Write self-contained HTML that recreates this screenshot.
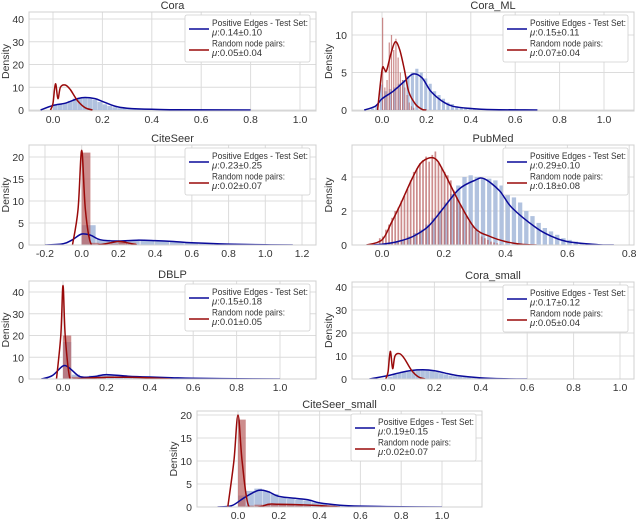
<!DOCTYPE html>
<html><head><meta charset="utf-8"><style>
body{margin:0;background:#fff;}
svg{display:block;font-family:"Liberation Sans",sans-serif;}
</style></head><body>
<svg id="c" width="640" height="522" viewBox="0 0 640 522"></svg>
<script>
// ---- data (density values) ----
const coraPosX=[-0.05,0,0.05,0.1,0.13,0.17,0.2,0.25,0.3,0.4,0.5,0.8];
const coraPosY=[0,2,3,5,5.5,5,3.8,1.7,0.8,0.3,0.1,0];
const coraRandX=[-0.01,0,0.01,0.02,0.03,0.05,0.07,0.1,0.13,0.16];
const coraRandY=[0,3,11.5,5,10,11,9,4,1,0];
const coraPosHist=[2,2.5,3,4,5,5.5,5.5,5,4.5,3.5,2.5,1.8,1.2,0.8,0.6,0.4,0.3,0.3,0.2,0.2,0.1,0.1];
const coraRandHist=[];

const coraMLPosX=[-0.08,-0.03,0,0.05,0.1,0.14,0.18,0.22,0.27,0.32,0.4,0.5,0.7];
const coraMLPosY=[0,0.5,1.5,2.5,3.8,4.8,4.3,2.5,1.2,0.5,0.2,0.05,0];
const coraMLRandX=[-0.02,0,0.01,0.02,0.04,0.06,0.08,0.1,0.12,0.15,0.18,0.2];
const coraMLRandY=[0,5.3,5.5,5.2,7.5,9.1,8,5.5,2.5,0.8,0.1,0];
const coraMLPosHist=[0.2,0.5,3.4,2.5,2.8,3,3.5,4,4.5,5,5.5,5,4.2,3.5,2.5,2,1.5,1,0.8,0.5,0.4,0.3,0.3,0.2,0.2,0.1];
const coraMLRandHist=[12.3,3,4,9,10,8,9.5,7,5,4,3,2,1,0.5,0.3];

const citePosX=[-0.2,-0.1,-0.05,0,0.05,0.1,0.2,0.3,0.4,0.5,0.6,0.8,1.0,1.15];
const citePosY=[0,0.3,1.2,2.5,2.2,1.2,0.9,1.1,1,0.8,0.5,0.2,0.05,0];
const citeRandX=[-0.05,-0.02,0,0.02,0.05,0.1,0.2,0.25,0.3];
const citeRandY=[0,8,21.5,8,0.3,0.1,0.8,0.5,0];
const citePosHist=[4.5,1.2,1,1.1,1,0.9,0.7,0.5,0.3,0.2,0.15,0.1,0.05,0.05];
const citeRandHist=[21,0.5,0.3,0.3,0.6,0.5];

const pubPosX=[-0.05,0,0.05,0.1,0.15,0.2,0.25,0.3,0.33,0.38,0.42,0.5,0.55,0.6,0.7,0.75];
const pubPosY=[0,0.05,0.2,0.5,1.1,2.2,3.3,3.8,3.9,3.2,2.2,1,0.5,0.2,0.02,0];
const pubRandX=[-0.05,0,0.03,0.06,0.1,0.13,0.17,0.2,0.25,0.3,0.35,0.4,0.45,0.5];
const pubRandY=[0,0.3,1.3,2.4,4,4.9,5.1,4.3,2.5,1,0.5,0.2,0.05,0];
const pubPosHist=[0.05,0.1,0.2,0.3,0.5,0.7,0.9,1.2,1.6,2,2.5,3,3.5,4,4.1,4,3.9,3.9,3.8,3.5,3.1,2.8,2.5,2,1.7,1.3,1,0.8,0.6,0.4,0.3,0.2,0.1,0.1,0.05];
const pubRandHist=[0.4,0.5,0.9,1.2,1.6,2,2.2,2.6,2.9,3.3,3.8,4.3,4.5,4.8,5,5.2,4.9,5.3,5.5,4.9,4.6,4.3,4.1,3.8,3.2,2.8,2.4,2.1,1.7,1.4,1.1,0.9,0.7,0.5,0.4,0.3,0.2,0.15,0.1,0.05];

const dblpPosX=[-0.1,-0.05,0,0.03,0.07,0.1,0.15,0.2,0.3,0.4,0.5,0.6,0.8,1.0];
const dblpPosY=[0,1.5,6,5,1.5,0.8,1.2,2,1.3,0.9,0.6,0.3,0.1,0];
const dblpRandX=[-0.03,-0.01,0,0.01,0.03,0.05,0.1,0.2,0.3,0.4,0.5];
const dblpRandY=[0,20,43,20,1,0,0.3,0.8,0.8,0.5,0];
const dblpPosHist=[17,2,1,1.5,2,2,1.5,1.2,1,0.8,0.6,0.5,0.4,0.3,0.2,0.1];
const dblpRandHist=[20,1,0.5,0.5,0.5];

const csmPosX=[-0.08,0,0.05,0.1,0.15,0.2,0.25,0.3,0.4,0.5,0.6];
const csmPosY=[0,1.5,2.7,3.7,4,3.6,2.5,1.5,0.5,0.1,0];
const csmRandX=[-0.01,0,0.01,0.02,0.03,0.05,0.07,0.1,0.13,0.16];
const csmRandY=[0,3,12,4.5,10,11,9,4,1,0];
const csmPosHist=[1,2,2.5,3,3.5,4,4,4,3.8,3.5,3,2.5,2,1.5,1.2,1,0.8,0.6,0.4,0.3];
const csmRandHist=[];

const cssPosX=[-0.1,-0.03,0.03,0.1,0.15,0.2,0.3,0.35,0.4,0.5,0.6,0.8,1.0];
const cssPosY=[0,0.3,2,3.6,3.3,2.3,1.8,1.5,0.9,0.4,0.2,0.05,0];
const cssRandX=[-0.05,-0.02,0,0.02,0.05,0.1,0.15,0.2,0.3,0.4,0.5];
const cssRandY=[0,10,20,10,0.5,0,0.6,0.6,0.5,0.3,0];
const cssPosHist=[2.5,3.5,4,3.5,2.8,2,1.8,1.6,1.4,1,0.7,0.4,0.3,0.2,0.1];
const cssRandHist=[19,0.3,0.5,0.5,0.5,0.5,0.4,0.3,0.2];

const xTicksStd=[0,0.2,0.4,0.6,0.8,1.0];
const xTicksCite=[-0.2,0,0.2,0.4,0.6,0.8,1.0,1.2];
const xTicksPub=[0,0.2,0.4,0.6,0.8];
const yTicks40=[0,10,20,30,40];
const yTicks20=[0,5,10,15,20];
const yTicksML=[0,5,10];
const yTicksPub=[0,2,4];
const legendPos=["0.14±0.10","0.15±0.11","0.23±0.25","0.29±0.10","0.15±0.18","0.17±0.12","0.19±0.15"];
const legendRand=["0.05±0.04","0.07±0.04","0.02±0.07","0.18±0.08","0.01±0.05","0.05±0.04","0.02±0.07"];

// ---- layout (pixels) ----
const panels=[
 {name:"Cora",key:"cora",L:29,R:316,T:12,B:111,x0:53,xs:247,y0:110,ys:2.275,xt:xTicksStd,yt:yTicks40,px:coraPosX,py:coraPosY,rx:coraRandX,ry:coraRandY,ph:coraPosHist,phS:0,phW:0.02,rh:coraRandHist,rhS:0,rhW:0.01},
 {name:"Cora_ML",key:"cora-ml",L:352,R:634,T:12,B:111,x0:382,xs:222,y0:110,ys:7.5,xt:xTicksStd,yt:yTicksML,px:coraMLPosX,py:coraMLPosY,rx:coraMLRandX,ry:coraMLRandY,ph:coraMLPosHist,phS:-0.05,phW:0.02,rh:coraMLRandHist,rhS:0,rhW:0.01,thin:true},
 {name:"CiteSeer",key:"citeseer",L:29,R:316,T:145,B:245,x0:81.7,xs:183.6,y0:245,ys:4.4,xt:xTicksCite,yt:yTicks20,px:citePosX,py:citePosY,rx:citeRandX,ry:citeRandY,ph:citePosHist,phS:0,phW:0.08,rh:citeRandHist,rhS:0,rhW:0.05},
 {name:"PubMed",key:"pubmed",L:352,R:634,T:145,B:245,x0:382,xs:309,y0:245,ys:17,xt:xTicksPub,yt:yTicksPub,px:pubPosX,py:pubPosY,rx:pubRandX,ry:pubRandY,ph:pubPosHist,phS:0,phW:0.02,rh:pubRandHist,rhS:-0.01,rhW:0.01,thin:true},
 {name:"DBLP",key:"dblp",L:29,R:316,T:281,B:379,x0:63,xs:217,y0:379,ys:2.175,xt:xTicksStd,yt:yTicks40,px:dblpPosX,py:dblpPosY,rx:dblpRandX,ry:dblpRandY,ph:dblpPosHist,phS:0,phW:0.04,rh:dblpRandHist,rhS:0,rhW:0.04},
 {name:"Cora_small",key:"cora-small",L:352,R:634,T:282,B:379,x0:388,xs:232,y0:379,ys:2.3,xt:xTicksStd,yt:yTicks40,px:csmPosX,py:csmPosY,rx:csmRandX,ry:csmRandY,ph:csmPosHist,phS:0,phW:0.02,rh:csmRandHist,rhS:0,rhW:0.01},
 {name:"CiteSeer_small",key:"citeseer-small",L:197,R:482,T:411,B:507,x0:238,xs:204,y0:507,ys:4.6,xt:xTicksStd,yt:yTicks20,px:cssPosX,py:cssPosY,rx:cssRandX,ry:cssRandY,ph:cssPosHist,phS:0,phW:0.04,rh:cssRandHist,rhS:0,rhW:0.04}
];
const NS="http://www.w3.org/2000/svg";
const svg=document.getElementById('c');
function mk(tag,attrs,parent){const e=document.createElementNS(NS,tag);for(const k in attrs)e.setAttribute(k,attrs[k]);(parent||svg).appendChild(e);return e;}
function smooth(pts){
 let d="M"+pts[0][0].toFixed(1)+","+pts[0][1].toFixed(1);
 for(let i=0;i<pts.length-1;i++){
  const p0=pts[Math.max(0,i-1)],p1=pts[i],p2=pts[i+1],p3=pts[Math.min(pts.length-1,i+2)];
  const c1=[p1[0]+(p2[0]-p0[0])/6,p1[1]+(p2[1]-p0[1])/6],c2=[p2[0]-(p3[0]-p1[0])/6,p2[1]-(p3[1]-p1[1])/6];
  d+=" C"+c1[0].toFixed(1)+","+c1[1].toFixed(1)+" "+c2[0].toFixed(1)+","+c2[1].toFixed(1)+" "+p2[0].toFixed(1)+","+p2[1].toFixed(1);
 }
 return d;
}
panels.forEach((p,pi)=>{
 const X=v=>p.x0+v*p.xs, Y=v=>p.y0-v*p.ys;
 const g=mk('g',{});
 
 
 const clipId='clip'+pi;
 const cp=mk('clipPath',{id:clipId},g);mk('rect',{x:p.L,y:p.T,width:p.R-p.L,height:p.B-p.T},cp);
 p.xt.forEach(t=>{
  const l=mk('line',{x1:X(t),x2:X(t),y1:p.T,y2:p.B,stroke:'#dcdcdc','stroke-width':1},g);
  
  
  const tx=mk('text',{x:X(t),y:p.B+12,'font-size':10.5,fill:'#333','text-anchor':'middle'},g);
  tx.textContent=t.toFixed(1);
  
  
 });
 p.yt.forEach(t=>{
  const l=mk('line',{x1:p.L,x2:p.R,y1:Y(t),y2:Y(t),stroke:'#dcdcdc','stroke-width':1},g);
  
  
  const tx=mk('text',{x:p.L-5,y:Y(t)+4,'font-size':10.5,fill:'#333','text-anchor':'end'},g);
  tx.textContent=t;
  
  
 });
 const marks=mk('g',{'clip-path':'url(#'+clipId+')'},g);
 p.ph.forEach((v,i)=>{
  const x1=X(p.phS+i*p.phW),x2=X(p.phS+(i+1)*p.phW);
  const r=mk('rect',{x:x1,y:Y(v),width:Math.max(0.5,(x2-x1)*(p.thin?0.7:0.95)),height:p.y0-Y(v),fill:'#a9bbdb',opacity:0.9},marks);
  
  
 });
 p.rh.forEach((v,i)=>{
  const x1=X(p.rhS+i*p.rhW),x2=X(p.rhS+(i+1)*p.rhW);
  const r=mk('rect',{x:x1,y:Y(v),width:Math.max(0.5,(x2-x1)*(p.thin?0.55:0.95)),height:p.y0-Y(v),fill:'#b85c5c',opacity:0.7},marks);
  
  
 });
 const pp=mk('path',{d:smooth(p.px.map((x,i)=>[X(x),Y(p.py[i])])),fill:'none',stroke:'#0a0a9a','stroke-width':1.5},marks);
 
 
 const rp=mk('path',{d:smooth(p.rx.map((x,i)=>[X(x),Y(p.ry[i])])),fill:'none',stroke:'#9a0a0a','stroke-width':1.5},marks);
 
 
 const fr=mk('rect',{x:p.L,y:p.T,width:p.R-p.L,height:p.B-p.T,fill:'none',stroke:'#d0d0d0','stroke-width':1},g);
 
 
 const ti=mk('text',{x:(p.L+p.R)/2,y:p.T-3,'font-size':11,fill:'#333','text-anchor':'middle'},g);
 ti.textContent=p.name;
 
 
 const yl=mk('text',{x:0,y:0,'font-size':10.5,fill:'#333','text-anchor':'middle',transform:'translate('+(p.L-20)+','+((p.T+p.B)/2)+') rotate(-90)'},g);
 yl.textContent='Density';
 
 
 // legend
 const lx=p.R-131, ly=p.T+3;
 const lg=mk('g',{},g);
 
 
 mk('rect',{x:lx,y:ly,width:125,height:47,fill:'#fff',stroke:'#d0d0d0','stroke-width':0.8,rx:2},lg);
 mk('line',{x1:lx+4,x2:lx+24,y1:ly+14,y2:ly+14,stroke:'#0a0a9a','stroke-width':1.5},lg);
 mk('line',{x1:lx+4,x2:lx+24,y1:ly+35,y2:ly+35,stroke:'#9a0a0a','stroke-width':1.5},lg);
 const lines=[["Positive Edges - Test Set:",11,96],["",20.5,0],["Random node pairs:",31.5,73],["",41,0]];
 lines.forEach(([s,dy,len],k)=>{
  const t=mk('text',{x:lx+27,y:ly+dy,'font-size':9.5,fill:'#333'},lg);
  if(s){t.textContent=s;t.setAttribute('textLength',len);t.setAttribute('lengthAdjust','spacingAndGlyphs');}
  else{
   const mu=mk('tspan',{'font-style':'italic'},t);mu.textContent='μ';
   const rest=mk('tspan',{},t);rest.textContent=':'+(k===1?legendPos[pi]:legendRand[pi]);
  }
  
  
 });
});
</script>
</body></html>
